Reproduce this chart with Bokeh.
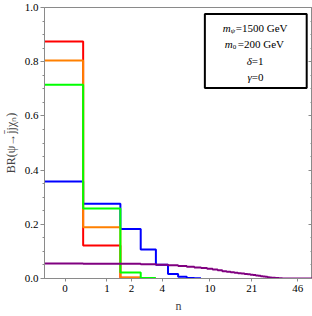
from bokeh.plotting import figure
from bokeh.models import FixedTicker, LinearAxis, PrintfTickFormatter, Label, BoxAnnotation, Range1d, CustomJSTickFormatter
from bokeh.embed import file_html
from bokeh.resources import INLINE

# ---- data ----
n_ticks = [0, 1, 2, 4, 10, 21, 46]
y_ticks = [0.0, 0.2, 0.4, 0.6, 0.8, 1.0]
y_minor = [0.05, 0.1, 0.15, 0.25, 0.3, 0.35, 0.45, 0.5, 0.55, 0.65, 0.7, 0.75, 0.85, 0.9, 0.95]

red_br = [0.875, 0.122, 0.003]
orange_br = [0.804, 0.189, 0.004]
green_br = [0.715, 0.258, 0.022, 0.002]
blue_br = [0.358, 0.276, 0.183, 0.107, 0.051, 0.017, 0.006, 0.002, 0.001]
purple_br = [0.055, 0.054, 0.054, 0.053, 0.051, 0.049, 0.046, 0.043, 0.041, 0.039,
             0.036, 0.033, 0.030, 0.027, 0.025, 0.023, 0.021, 0.019, 0.018, 0.017,
             0.016, 0.014, 0.013, 0.011, 0.010, 0.008, 0.007, 0.006, 0.005, 0.004,
             0.003, 0.0025, 0.002, 0.0015, 0.001, 0.0006, 0.0003, 0.0001, 0, 0,
             0, 0, 0, 0, 0, 0, 0, 0, 0, 0,
             0, 0, 0, 0, 0, 0, 0, 0, 0, 0]
first_bin_upper = 0.35   # upper edge of the n=0 bin
offset = 1.0             # axis is logarithmic in (n + 1)

labels_box = [("m", "\u03c8", "=1500 GeV"), ("m", "0", "=200 GeV"), ("\u03b4", "", "=1"), ("\u03b3", "", "=0")]

FONT = "Liberation Serif"
AXC = "#8a8a8a"


def step_xy(vals):
    lefts, rights = [], []
    for n in range(len(vals)):
        lo = -0.5 if n == 0 else (first_bin_upper if n == 1 else n - 0.5)
        hi = first_bin_upper if n == 0 else n + 0.5
        lefts.append(lo + offset)
        rights.append(hi + offset)
    xs = lefts + [rights[-1]]
    ys = list(vals) + [vals[-1]]
    return xs, ys


p = figure(width=312, height=316, x_axis_type="log", output_backend="svg",
           toolbar_location=None, x_range=Range1d(0.712, 60.1), y_range=Range1d(0, 1),
           min_border_left=40, min_border_right=0, min_border_top=7, min_border_bottom=38)
p.grid.visible = False
p.outline_line_color = AXC
p.outline_line_width = 1
p.background_fill_color = "white"
p.border_fill_color = "white"

series = [(blue_br, "#0000ff"), (red_br, "#ff0000"), (orange_br, "#ff8000"),
          (green_br, "#00ff00"), (purple_br, "#800080")]
for vals, col in series:
    xs, ys = step_xy(vals)
    p.step(xs, ys, mode="after", line_color=col, line_width=2)

# x axis
xa = p.xaxis[0]
xa.ticker = FixedTicker(ticks=[t + offset for t in n_ticks], minor_ticks=[])
xa.major_label_overrides = {float(t + offset): str(t) for t in n_ticks}
xa.axis_label = "n"
xa.axis_line_color = AXC
xa.major_tick_line_color = AXC
xa.major_tick_out = 3
xa.major_tick_in = 0
xa.major_label_text_font = FONT
xa.major_label_text_font_size = "11px"
xa.major_label_text_color = "black"
xa.major_label_standoff = 3
xa.axis_label_text_font = FONT
xa.axis_label_text_font_size = "12px"
xa.axis_label_text_font_style = "normal"
xa.axis_label_standoff = 4

# y axis
ya = p.yaxis[0]
ya.ticker = FixedTicker(ticks=y_ticks, minor_ticks=y_minor)
ya.formatter = PrintfTickFormatter(format="%.1f")
ya.axis_label = "BR(\u03c8\u2192j\u0304j\u03c7\u2099)"
ya.axis_line_color = AXC
ya.major_tick_line_color = AXC
ya.minor_tick_line_color = AXC
ya.major_tick_out = 4
ya.major_tick_in = 0
ya.minor_tick_out = 2
ya.minor_tick_in = 0
ya.major_label_text_font = FONT
ya.major_label_text_font_size = "11px"
ya.major_label_text_color = "black"
ya.major_label_standoff = 2
ya.axis_label_text_font = FONT
ya.axis_label_text_font_size = "12px"
ya.axis_label_text_font_style = "normal"
ya.axis_label_standoff = 4

# right axis (ticks only, inward, no labels)
ra = LinearAxis(ticker=FixedTicker(ticks=y_ticks, minor_ticks=y_minor),
                formatter=CustomJSTickFormatter(code="return ''"))
ra.major_label_standoff = 0
ra.major_label_text_font_size = "1px"
ra.axis_line_color = AXC
ra.major_tick_line_color = AXC
ra.minor_tick_line_color = AXC
ra.major_tick_in = 4
ra.major_tick_out = 0
ra.minor_tick_in = 2
ra.minor_tick_out = 0
p.add_layout(ra, "right")

# parameter box
box = BoxAnnotation(left=10.12, right=54.6, bottom=0.703, top=0.976,
                    fill_color="white", fill_alpha=1.0, line_color="black",
                    line_alpha=1.0, line_width=2)
p.add_layout(box)

cx = 23.5
line_y = [0.926, 0.865, 0.802, 0.744]
splits = [-20, -18, -4, -4]
for (it, sub, rest), yy, sp in zip(labels_box, line_y, splits):
    subw = 5 if sub else 0
    p.add_layout(Label(x=cx, y=yy, x_offset=sp - subw, text=it, text_font=FONT,
                       text_font_size="11px", text_font_style="italic",
                       text_align="right", text_baseline="middle", text_color="black"))
    if sub:
        p.add_layout(Label(x=cx, y=yy, x_offset=sp - subw, y_offset=-3, text=sub, text_font=FONT,
                           text_font_size="7px", text_font_style="italic" if sub != "0" else "normal",
                           text_align="left", text_baseline="middle", text_color="black"))
    p.add_layout(Label(x=cx, y=yy, x_offset=sp, text=rest, text_font=FONT,
                       text_font_size="11px", text_align="left", text_baseline="middle",
                       text_color="black"))

open("out.html", "w").write(file_html(p, INLINE))
